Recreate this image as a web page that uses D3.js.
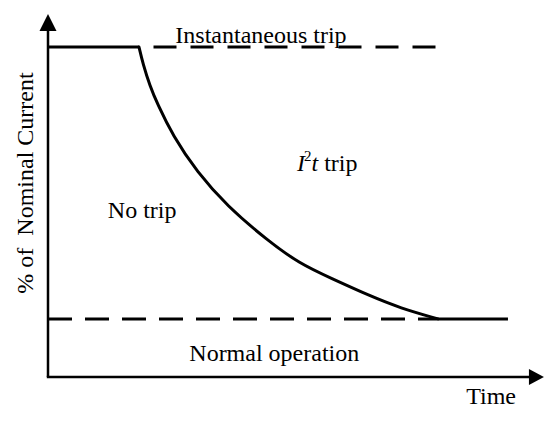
<!DOCTYPE html>
<html>
<head>
<meta charset="utf-8">
<script src="https://cdn.jsdelivr.net/npm/d3@7"></script>
<style>
  html, body { margin: 0; padding: 0; background: #fff; }
  svg { display: block; }
</style>
</head>
<body>
<svg id="chart" width="550" height="422"></svg>
<script>
// ---- data (schematic units: time 0..100, current 0..100 = instantaneous level) ----
const instantLevel = 100;
const nominalLevel = 17.6;
const curveTime    = [18.46, 19.27, 20.69, 22.11, 25.35, 30.22, 36.31, 44.42, 51.12, 57.30, 65.31, 71.40, 79.11];
const curveCurrent = [100, 94.85, 88.18, 83.03, 73.03, 62.12, 51.82, 41.52, 34.24, 30.0, 24.55, 20.91, 17.6];
const tripEndTime = 93.3;
const instantDashStart = 21.4, instantDashEnd = 79.2;
const nominalDashStart = 0, nominalDashEnd = 79.1;
const regionLabels = ["Instantaneous trip", "No trip", "Normal operation"];
const regionLabelT = [43.2, 19.1, 45.9];
const regionLabelC = [101.2, 48.2, 4.8];
const xAxisLabel = "Time";
const yAxisLabel = "% of\u00A0 Nominal Current";

const FONT = "Liberation Serif";

const svg = d3.select("#chart");
const x = d3.scaleLinear().domain([0, 100]).range([48, 541]);
const y = d3.scaleLinear().domain([0, 100]).range([377, 47]);

const line = d3.line().x(d => x(d[0])).y(d => y(d[1]));
const smooth = d3.line().x(d => x(d[0])).y(d => y(d[1])).curve(d3.curveBasis);

// solid trip characteristic: flat top, I^2t curve, flat bottom
const curvePts = curveTime.map((t, i) => [t, curveCurrent[i]]);
svg.append("path")
  .attr("d", line([[0, instantLevel], curvePts[0]]))
  .attr("fill", "none").attr("stroke", "#000").attr("stroke-width", 3);
svg.append("path")
  .attr("d", smooth(curvePts))
  .attr("fill", "none").attr("stroke", "#000").attr("stroke-width", 3)
  .attr("stroke-linecap", "round");
svg.append("path")
  .attr("d", line([curvePts[curvePts.length - 1], [tripEndTime, nominalLevel]]))
  .attr("fill", "none").attr("stroke", "#000").attr("stroke-width", 3);

// dashed levels
svg.append("path")
  .attr("d", line([[instantDashStart, instantLevel], [instantDashEnd, instantLevel]]))
  .attr("stroke", "#000").attr("stroke-width", 3).attr("stroke-dasharray", "23,14");
svg.append("path")
  .attr("d", line([[nominalDashStart, nominalLevel], [nominalDashEnd, nominalLevel]]))
  .attr("stroke", "#000").attr("stroke-width", 3).attr("stroke-dasharray", "24,13");

// axes
const x0 = x(0), y0 = y(0);
const yTop = y(110), xRight = x(100.6);
svg.append("line").attr("x1", x0).attr("y1", y0).attr("x2", x0).attr("y2", yTop + 12)
  .attr("stroke", "#000").attr("stroke-width", 2.5);
svg.append("line").attr("x1", x0 - 1.2).attr("y1", y0).attr("x2", xRight - 12).attr("y2", y0)
  .attr("stroke", "#000").attr("stroke-width", 2.5);
svg.append("path")
  .attr("d", `M${x0},${yTop} L${x0 - 8.5},${yTop + 17} L${x0 + 8.5},${yTop + 17} Z`)
  .attr("fill", "#000");
svg.append("path")
  .attr("d", `M${xRight},${y0} L${xRight - 15},${y0 - 8} L${xRight - 15},${y0 + 8} Z`)
  .attr("fill", "#000");

// region labels
svg.selectAll("text.region").data(regionLabels).enter().append("text")
  .attr("class", "region")
  .attr("x", (d, i) => x(regionLabelT[i]))
  .attr("y", (d, i) => y(regionLabelC[i]))
  .attr("text-anchor", "middle")
  .attr("font-family", FONT)
  .attr("font-size", 24)
  .attr("fill", "#000")
  .text(d => d);

// I^2 t trip label
const i2t = svg.append("text")
  .attr("x", x(50.5)).attr("y", y(62.4))
  .attr("font-family", FONT)
  .attr("font-size", 24)
  .attr("fill", "#000");
i2t.append("tspan").attr("font-style", "italic").text("I");
i2t.append("tspan").attr("font-size", 15).attr("dy", -10).attr("dx", -1).text("2");
i2t.append("tspan").attr("font-style", "italic").attr("dy", 10).text("t");
i2t.append("tspan").text(" trip");

// axis labels
svg.append("text").attr("x", 516).attr("y", 404).attr("text-anchor", "end")
  .attr("font-family", FONT).attr("fill", "#000")
  .attr("font-size", 24).text(xAxisLabel);
svg.append("text")
  .attr("transform", `translate(33,${183}) rotate(-90)`)
  .attr("text-anchor", "middle")
  .attr("font-family", FONT).attr("fill", "#000")
  .attr("font-size", 24)
  .text(yAxisLabel);
</script>
</body>
</html>
